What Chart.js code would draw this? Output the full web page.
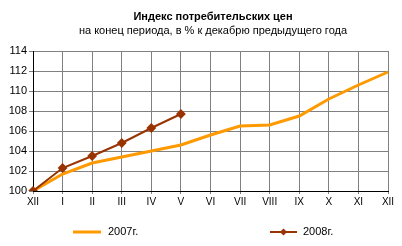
<!DOCTYPE html>
<html>
<head>
<meta charset="utf-8">
<script src="https://cdn.jsdelivr.net/npm/chart.js@4/dist/chart.umd.min.js"></script>
<style>
  body { margin: 0; background: #fff; font-family: "Liberation Sans", Arial, sans-serif; }
  #wrap { position: relative; width: 402px; height: 246px; }
  canvas { position: absolute; left: 0; top: 0; }
  .t { position: absolute; left: 13px; width: 400px; text-align: center; white-space: nowrap; font-size: 11px; color: #000; }
  .leg { position: absolute; font-size: 11px; color: #000; }
</style>
</head>
<body>
<div id="wrap">
  <canvas id="c" width="402" height="246"></canvas>
  <div class="t" style="top:10px;font-weight:bold;">Индекс потребительских цен</div>
  <div class="t" style="top:24px;">на конец периода, в % к декабрю предыдущего года</div>
  <svg class="leg" style="left:70px;top:226px" width="36" height="12">
    <line x1="3" y1="6" x2="31" y2="6" stroke="#FF9900" stroke-width="3"/>
  </svg>
  <div class="leg" style="left:108px;top:225px">2007г.</div>
  <svg class="leg" style="left:267px;top:226px" width="36" height="12">
    <line x1="3" y1="6" x2="30" y2="6" stroke="#993300" stroke-width="2"/>
    <polygon points="16.5,2.5 20,6 16.5,9.5 13,6" fill="#993300"/>
  </svg>
  <div class="leg" style="left:303px;top:225px">2008г.</div>
</div>
<script>
// months (XII of previous year .. XII)
var months = ["XII", "I", "II", "III", "IV", "V", "VI", "VII", "VIII", "IX", "X", "XI", "XII"];
var cpi2007 = [100, 101.7, 102.8, 103.4, 104.0, 104.6, 105.6, 106.5, 106.6, 107.5, 109.2, 110.6, 111.9];
var cpi2008 = [100, 102.3, 103.5, 104.8, 106.3, 107.7];
var yTicks = [100, 102, 104, 106, 108, 110, 112, 114];

new Chart(document.getElementById("c"), {
    type: "line",
    data: {
        labels: months,
        datasets: [
            {
                label: "2007г.",
                data: cpi2007,
                borderColor: "#FF9900",
                borderWidth: 3,
                pointRadius: 0,
                tension: 0,
                order: 2,
            },
            {
                label: "2008г.",
                data: cpi2008,
                borderColor: "#993300",
                backgroundColor: "#993300",
                borderWidth: 2,
                pointStyle: "rectRot",
                pointRadius: 3.5,
                tension: 0,
                order: 1,
            },
        ],
    },
    options: {
        responsive: false,
        animation: false,
        layout: { padding: { top: 51, right: 14, left: 0, bottom: 0 } },
        plugins: { legend: { display: false }, tooltip: { enabled: false } },
        scales: {
            x: {
                offset: false,
                grid: { color: "#808080", tickLength: 3, lineWidth: 1 },
                border: { color: "#000", width: 1 },
                ticks: { color: "#000", font: { family: "Liberation Sans", size: 10 }, maxRotation: 0, autoSkip: false, padding: 2 },
                afterFit: function (axis) { axis.height = 55; },
            },
            y: {
                min: 100,
                max: 114,
                afterBuildTicks: function (axis) {
                    axis.ticks = yTicks.map(function (v) { return { value: v }; });
                },
                grid: { color: "#808080", tickLength: 4, lineWidth: 1 },
                border: { color: "#000", width: 1 },
                ticks: { color: "#000", font: { family: "Liberation Sans", size: 11 }, padding: 2 },
                afterFit: function (axis) { axis.width = 33; },
            },
        },
    },
});
</script>
</body>
</html>
